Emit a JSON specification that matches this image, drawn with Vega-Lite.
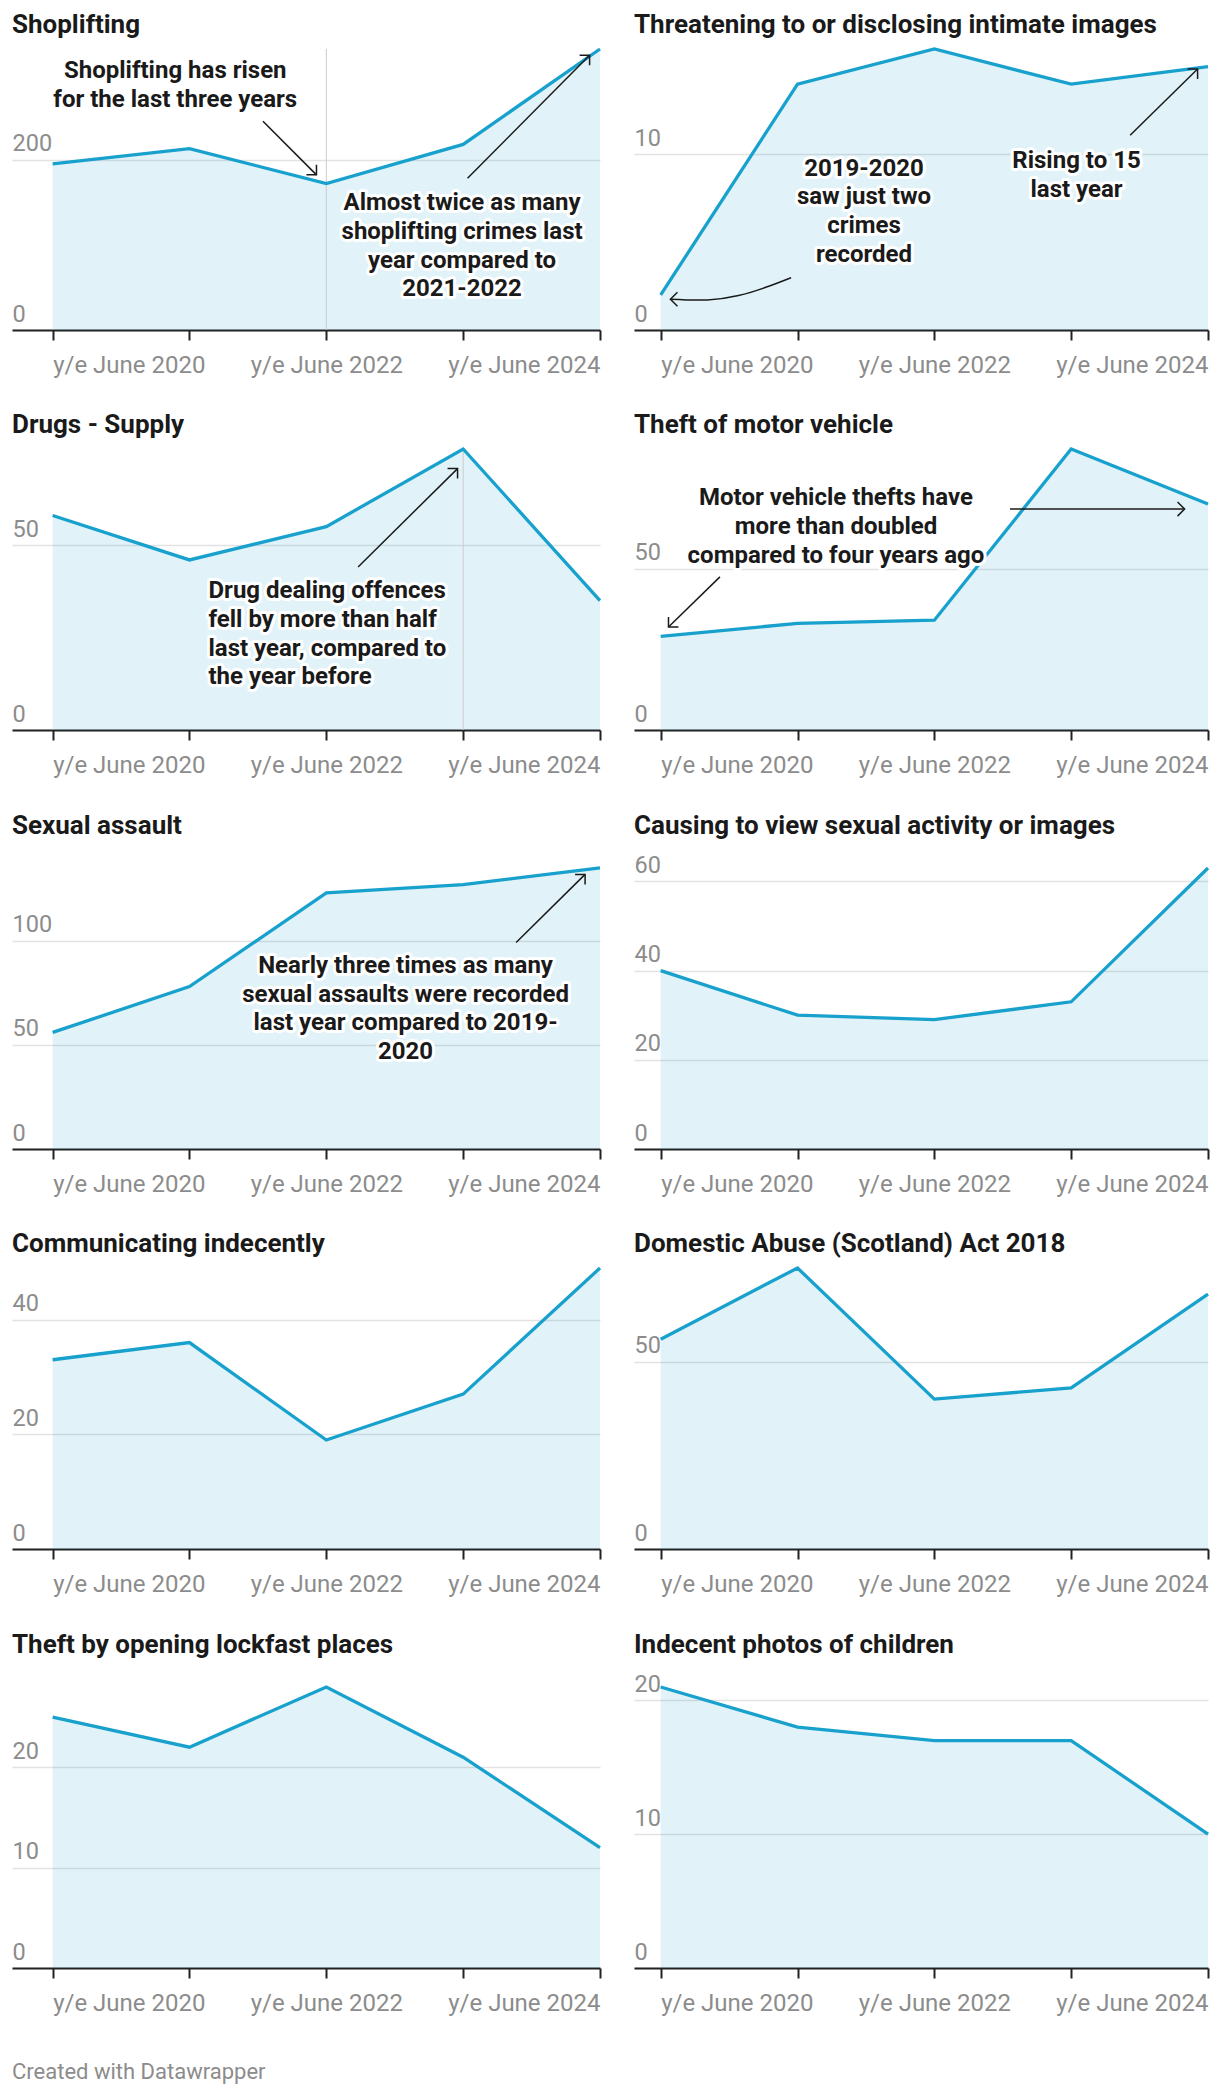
{
  "$schema": "https://vega.github.io/schema/vega-lite/v6.json",
  "background": "white",
  "padding": {"left": 12, "top": 12, "right": 12, "bottom": 8},
  "title": {"text": "Created with Datawrapper", "orient": "bottom", "anchor": "start", "frame": "bounds", "fontSize": 22, "fontWeight": "normal", "color": "#8c8c8c", "font": "Roboto", "offset": 64, "baseline": "alphabetic"},
  "datasets": {
    "series": [
      {"p":"shop","year":2020,"n":195},{"p":"shop","year":2021,"n":213},{"p":"shop","year":2022,"n":172},{"p":"shop","year":2023,"n":218},{"p":"shop","year":2024,"n":330},
      {"p":"threat","year":2020,"n":2},{"p":"threat","year":2021,"n":14},{"p":"threat","year":2022,"n":16},{"p":"threat","year":2023,"n":14},{"p":"threat","year":2024,"n":15},
      {"p":"drugs","year":2020,"n":58},{"p":"drugs","year":2021,"n":46},{"p":"drugs","year":2022,"n":55},{"p":"drugs","year":2023,"n":76},{"p":"drugs","year":2024,"n":35},
      {"p":"motor","year":2020,"n":29},{"p":"motor","year":2021,"n":33},{"p":"motor","year":2022,"n":34},{"p":"motor","year":2023,"n":87},{"p":"motor","year":2024,"n":70},
      {"p":"sexual","year":2020,"n":56},{"p":"sexual","year":2021,"n":78},{"p":"sexual","year":2022,"n":123},{"p":"sexual","year":2023,"n":127},{"p":"sexual","year":2024,"n":135},
      {"p":"causing","year":2020,"n":40},{"p":"causing","year":2021,"n":30},{"p":"causing","year":2022,"n":29},{"p":"causing","year":2023,"n":33},{"p":"causing","year":2024,"n":63},
      {"p":"comm","year":2020,"n":33},{"p":"comm","year":2021,"n":36},{"p":"comm","year":2022,"n":19},{"p":"comm","year":2023,"n":27},{"p":"comm","year":2024,"n":49},
      {"p":"domestic","year":2020,"n":56},{"p":"domestic","year":2021,"n":75},{"p":"domestic","year":2022,"n":40},{"p":"domestic","year":2023,"n":43},{"p":"domestic","year":2024,"n":68},
      {"p":"lockfast","year":2020,"n":25},{"p":"lockfast","year":2021,"n":22},{"p":"lockfast","year":2022,"n":28},{"p":"lockfast","year":2023,"n":21},{"p":"lockfast","year":2024,"n":12},
      {"p":"photos","year":2020,"n":21},{"p":"photos","year":2021,"n":18},{"p":"photos","year":2022,"n":17},{"p":"photos","year":2023,"n":17},{"p":"photos","year":2024,"n":10}
    ],
    "ranges": [
      {"p":"shop","x":2022,"y":0,"y2":330},
      {"p":"drugs","x":2023,"y":0,"y2":76}
    ],
    "arrows": [
      {"p":"shop","x":2021.537,"y":245.1,"x2":2021.928,"y2":182.2},
      {"p":"shop","x":2023.032,"y":178.1,"x2":2023.924,"y2":322.7},
      {"p":"threat","x":2023.431,"y":11.09,"x2":2023.924,"y2":14.86},
      {"p":"drugs","x":2022.232,"y":44.1,"x2":2022.959,"y2":70.7},
      {"p":"motor","x":2020.433,"y":47.4,"x2":2020.057,"y2":31.9},
      {"p":"motor","x":2022.553,"y":68.4,"x2":2023.829,"y2":68.4},
      {"p":"sexual","x":2023.387,"y":99.2,"x2":2023.891,"y2":131.9}
    ],
    "heads": [
      {"p":"shop","x":2021.928,"y":182.2,"dir":"se"},
      {"p":"shop","x":2023.924,"y":322.7,"dir":"ne"},
      {"p":"threat","x":2023.924,"y":14.86,"dir":"ne"},
      {"p":"threat","x":2020.071,"y":1.75,"dir":"w"},
      {"p":"drugs","x":2022.959,"y":70.7,"dir":"ne"},
      {"p":"motor","x":2020.057,"y":31.9,"dir":"sw"},
      {"p":"motor","x":2023.829,"y":68.4,"dir":"e"},
      {"p":"sexual","x":2023.891,"y":131.9,"dir":"ne"}
    ],
    "curves": [
      {"p":"threat","x":2020.071,"y":1.75},
      {"p":"threat","x":2020.341,"y":1.71},
      {"p":"threat","x":2020.569,"y":1.96},
      {"p":"threat","x":2020.768,"y":2.43},
      {"p":"threat","x":2020.953,"y":2.98}
    ],
    "notes": [
      {"p":"shop","x":2020.896,"y":295.9,"t":["Shoplifting has risen","for the last three years"]},
      {"p":"shop","x":2022.992,"y":140.5,"t":["Almost twice as many","shoplifting crimes last","year compared to","2021-2022"]},
      {"p":"threat","x":2021.486,"y":8.78,"t":["2019-2020","saw just two","crimes","recorded"]},
      {"p":"threat","x":2023.039,"y":9.23,"t":["Rising to 15","last year"]},
      {"p":"drugs","x":2021.139,"y":35.6,"t":["Drug dealing offences","fell by more than half","last year, compared to","the year before"]},
      {"p":"motor","x":2021.281,"y":69.6,"t":["Motor vehicle thefts have","more than doubled","compared to four years ago"]},
      {"p":"sexual","x":2022.579,"y":84.6,"t":["Nearly three times as many","sexual assaults were recorded","last year compared to 2019-","2020"]}
    ]
  },
  "columns": 2,
  "spacing": {"row": 119, "column": 34},
  "bounds": "flush",
  "align": "each",
  "concat": [
    {
      "width": 588, "height": 281, "title": "Shoplifting",
      "data": {"name": "series"}, "transform": [{"filter": "datum.p === 'shop'"}],
      "encoding": {
        "x": {"field": "year", "type": "quantitative", "scale": {"domain": [2019.703, 2024], "nice": false, "zero": false}, "axis": {"values": [2020,2021,2022,2023,2024], "labelExpr": "datum.value % 2 === 0 ? 'y/e June ' + datum.value : ''", "title": null}},
        "y": {"field": "n", "type": "quantitative", "scale": {"domain": [0, 330], "nice": false}, "axis": {"values": [0, 200], "title": null}}
      },
      "layer": [
        {"mark": {"type": "area", "color": "#18a1cd", "fillOpacity": 0.13}},
        {"data": {"name": "ranges"}, "transform": [{"filter": "datum.p === 'shop'"}], "mark": {"type": "rule", "stroke": "#cccccc", "strokeWidth": 1}, "encoding": {"x": {"field": "x", "type": "quantitative"}, "y": {"field": "y", "type": "quantitative"}, "y2": {"field": "y2"}}},
        {"mark": {"type": "line", "color": "#18a1cd", "strokeWidth": 3.3}},
        {"data": {"name": "arrows"}, "transform": [{"filter": "datum.p === 'shop'"}], "mark": {"type": "rule", "stroke": "#1a1a1a", "strokeWidth": 1.5}, "encoding": {"x": {"field": "x", "type": "quantitative"}, "y": {"field": "y", "type": "quantitative"}, "x2": {"field": "x2"}, "y2": {"field": "y2"}}},
        {"data": {"name": "heads"}, "transform": [{"filter": "datum.p === 'shop'"}], "mark": {"type": "point", "shape": "M-1,-1L0,0L-1,1", "filled": false, "stroke": "#1a1a1a", "strokeWidth": 1.5, "size": 200, "opacity": 1}, "encoding": {"x": {"field": "x", "type": "quantitative"}, "y": {"field": "y", "type": "quantitative"}, "angle": {"field": "dir", "type": "nominal", "scale": {"type": "ordinal", "domain": ["e","se","sw","w","ne"], "range": [0,45,135,180,315]}, "legend": null}}},
        {"data": {"name": "notes"}, "transform": [{"filter": "datum.p === 'shop'"}], "mark": {"type": "text", "font": "Roboto", "fontSize": 24, "fontWeight": "bold", "align": "center", "baseline": "alphabetic", "lineHeight": 28.7, "fill": "white", "stroke": "white", "strokeWidth": 6, "strokeJoin": "round"}, "encoding": {"x": {"field": "x", "type": "quantitative"}, "y": {"field": "y", "type": "quantitative"}, "text": {"field": "t", "type": "nominal"}}},
        {"data": {"name": "notes"}, "transform": [{"filter": "datum.p === 'shop'"}], "mark": {"type": "text", "font": "Roboto", "fontSize": 24, "fontWeight": "bold", "align": "center", "baseline": "alphabetic", "lineHeight": 28.7, "fill": "#1a1a1a"}, "encoding": {"x": {"field": "x", "type": "quantitative"}, "y": {"field": "y", "type": "quantitative"}, "text": {"field": "t", "type": "nominal"}}}
      ]
    },
    {
      "width": 574, "height": 281, "title": "Threatening to or disclosing intimate images",
      "data": {"name": "series"}, "transform": [{"filter": "datum.p === 'threat'"}],
      "encoding": {
        "x": {"field": "year", "type": "quantitative", "scale": {"domain": [2019.805, 2024], "nice": false, "zero": false}, "axis": {"values": [2020,2021,2022,2023,2024], "labelExpr": "datum.value % 2 === 0 ? 'y/e June ' + datum.value : ''", "title": null}},
        "y": {"field": "n", "type": "quantitative", "scale": {"domain": [0, 16], "nice": false}, "axis": {"values": [0, 10], "title": null}}
      },
      "layer": [
        {"mark": {"type": "area", "color": "#18a1cd", "fillOpacity": 0.13}},
        {"mark": {"type": "line", "color": "#18a1cd", "strokeWidth": 3.3}},
        {"data": {"name": "arrows"}, "transform": [{"filter": "datum.p === 'threat'"}], "mark": {"type": "rule", "stroke": "#1a1a1a", "strokeWidth": 1.5}, "encoding": {"x": {"field": "x", "type": "quantitative"}, "y": {"field": "y", "type": "quantitative"}, "x2": {"field": "x2"}, "y2": {"field": "y2"}}},
        {"data": {"name": "curves"}, "transform": [{"filter": "datum.p === 'threat'"}], "mark": {"type": "line", "stroke": "#1a1a1a", "strokeWidth": 1.5, "interpolate": "natural"}, "encoding": {"x": {"field": "x", "type": "quantitative"}, "y": {"field": "y", "type": "quantitative"}}},
        {"data": {"name": "heads"}, "transform": [{"filter": "datum.p === 'threat'"}], "mark": {"type": "point", "shape": "M-1,-1L0,0L-1,1", "filled": false, "stroke": "#1a1a1a", "strokeWidth": 1.5, "size": 200, "opacity": 1}, "encoding": {"x": {"field": "x", "type": "quantitative"}, "y": {"field": "y", "type": "quantitative"}, "angle": {"field": "dir", "type": "nominal", "scale": {"type": "ordinal", "domain": ["e","se","sw","w","ne"], "range": [0,45,135,180,315]}, "legend": null}}},
        {"data": {"name": "notes"}, "transform": [{"filter": "datum.p === 'threat'"}], "mark": {"type": "text", "font": "Roboto", "fontSize": 24, "fontWeight": "bold", "align": "center", "baseline": "alphabetic", "lineHeight": 28.7, "fill": "white", "stroke": "white", "strokeWidth": 6, "strokeJoin": "round"}, "encoding": {"x": {"field": "x", "type": "quantitative"}, "y": {"field": "y", "type": "quantitative"}, "text": {"field": "t", "type": "nominal"}}},
        {"data": {"name": "notes"}, "transform": [{"filter": "datum.p === 'threat'"}], "mark": {"type": "text", "font": "Roboto", "fontSize": 24, "fontWeight": "bold", "align": "center", "baseline": "alphabetic", "lineHeight": 28.7, "fill": "#1a1a1a"}, "encoding": {"x": {"field": "x", "type": "quantitative"}, "y": {"field": "y", "type": "quantitative"}, "text": {"field": "t", "type": "nominal"}}}
      ]
    },
    {
      "width": 588, "height": 281, "title": "Drugs - Supply",
      "data": {"name": "series"}, "transform": [{"filter": "datum.p === 'drugs'"}],
      "encoding": {
        "x": {"field": "year", "type": "quantitative", "scale": {"domain": [2019.703, 2024], "nice": false, "zero": false}, "axis": {"values": [2020,2021,2022,2023,2024], "labelExpr": "datum.value % 2 === 0 ? 'y/e June ' + datum.value : ''", "title": null}},
        "y": {"field": "n", "type": "quantitative", "scale": {"domain": [0, 76], "nice": false}, "axis": {"values": [0, 50], "title": null}}
      },
      "layer": [
        {"mark": {"type": "area", "color": "#18a1cd", "fillOpacity": 0.13}},
        {"data": {"name": "ranges"}, "transform": [{"filter": "datum.p === 'drugs'"}], "mark": {"type": "rule", "stroke": "#cccccc", "strokeWidth": 1}, "encoding": {"x": {"field": "x", "type": "quantitative"}, "y": {"field": "y", "type": "quantitative"}, "y2": {"field": "y2"}}},
        {"mark": {"type": "line", "color": "#18a1cd", "strokeWidth": 3.3}},
        {"data": {"name": "arrows"}, "transform": [{"filter": "datum.p === 'drugs'"}], "mark": {"type": "rule", "stroke": "#1a1a1a", "strokeWidth": 1.5}, "encoding": {"x": {"field": "x", "type": "quantitative"}, "y": {"field": "y", "type": "quantitative"}, "x2": {"field": "x2"}, "y2": {"field": "y2"}}},
        {"data": {"name": "heads"}, "transform": [{"filter": "datum.p === 'drugs'"}], "mark": {"type": "point", "shape": "M-1,-1L0,0L-1,1", "filled": false, "stroke": "#1a1a1a", "strokeWidth": 1.5, "size": 200, "opacity": 1}, "encoding": {"x": {"field": "x", "type": "quantitative"}, "y": {"field": "y", "type": "quantitative"}, "angle": {"field": "dir", "type": "nominal", "scale": {"type": "ordinal", "domain": ["e","se","sw","w","ne"], "range": [0,45,135,180,315]}, "legend": null}}},
        {"data": {"name": "notes"}, "transform": [{"filter": "datum.p === 'drugs'"}], "mark": {"type": "text", "font": "Roboto", "fontSize": 24, "fontWeight": "bold", "align": "left", "baseline": "alphabetic", "lineHeight": 28.7, "fill": "white", "stroke": "white", "strokeWidth": 6, "strokeJoin": "round"}, "encoding": {"x": {"field": "x", "type": "quantitative"}, "y": {"field": "y", "type": "quantitative"}, "text": {"field": "t", "type": "nominal"}}},
        {"data": {"name": "notes"}, "transform": [{"filter": "datum.p === 'drugs'"}], "mark": {"type": "text", "font": "Roboto", "fontSize": 24, "fontWeight": "bold", "align": "left", "baseline": "alphabetic", "lineHeight": 28.7, "fill": "#1a1a1a"}, "encoding": {"x": {"field": "x", "type": "quantitative"}, "y": {"field": "y", "type": "quantitative"}, "text": {"field": "t", "type": "nominal"}}}
      ]
    },
    {
      "width": 574, "height": 281, "title": "Theft of motor vehicle",
      "data": {"name": "series"}, "transform": [{"filter": "datum.p === 'motor'"}],
      "encoding": {
        "x": {"field": "year", "type": "quantitative", "scale": {"domain": [2019.805, 2024], "nice": false, "zero": false}, "axis": {"values": [2020,2021,2022,2023,2024], "labelExpr": "datum.value % 2 === 0 ? 'y/e June ' + datum.value : ''", "title": null}},
        "y": {"field": "n", "type": "quantitative", "scale": {"domain": [0, 87], "nice": false}, "axis": {"values": [0, 50], "title": null}}
      },
      "layer": [
        {"mark": {"type": "area", "color": "#18a1cd", "fillOpacity": 0.13}},
        {"mark": {"type": "line", "color": "#18a1cd", "strokeWidth": 3.3}},
        {"data": {"name": "arrows"}, "transform": [{"filter": "datum.p === 'motor'"}], "mark": {"type": "rule", "stroke": "#1a1a1a", "strokeWidth": 1.5}, "encoding": {"x": {"field": "x", "type": "quantitative"}, "y": {"field": "y", "type": "quantitative"}, "x2": {"field": "x2"}, "y2": {"field": "y2"}}},
        {"data": {"name": "heads"}, "transform": [{"filter": "datum.p === 'motor'"}], "mark": {"type": "point", "shape": "M-1,-1L0,0L-1,1", "filled": false, "stroke": "#1a1a1a", "strokeWidth": 1.5, "size": 200, "opacity": 1}, "encoding": {"x": {"field": "x", "type": "quantitative"}, "y": {"field": "y", "type": "quantitative"}, "angle": {"field": "dir", "type": "nominal", "scale": {"type": "ordinal", "domain": ["e","se","sw","w","ne"], "range": [0,45,135,180,315]}, "legend": null}}},
        {"data": {"name": "notes"}, "transform": [{"filter": "datum.p === 'motor'"}], "mark": {"type": "text", "font": "Roboto", "fontSize": 24, "fontWeight": "bold", "align": "center", "baseline": "alphabetic", "lineHeight": 28.7, "fill": "white", "stroke": "white", "strokeWidth": 6, "strokeJoin": "round"}, "encoding": {"x": {"field": "x", "type": "quantitative"}, "y": {"field": "y", "type": "quantitative"}, "text": {"field": "t", "type": "nominal"}}},
        {"data": {"name": "notes"}, "transform": [{"filter": "datum.p === 'motor'"}], "mark": {"type": "text", "font": "Roboto", "fontSize": 24, "fontWeight": "bold", "align": "center", "baseline": "alphabetic", "lineHeight": 28.7, "fill": "#1a1a1a"}, "encoding": {"x": {"field": "x", "type": "quantitative"}, "y": {"field": "y", "type": "quantitative"}, "text": {"field": "t", "type": "nominal"}}}
      ]
    },
    {
      "width": 588, "height": 300, "title": {"text": "Sexual assault", "offset": 10},
      "data": {"name": "series"}, "transform": [{"filter": "datum.p === 'sexual'"}],
      "encoding": {
        "x": {"field": "year", "type": "quantitative", "scale": {"domain": [2019.703, 2024], "nice": false, "zero": false}, "axis": {"values": [2020,2021,2022,2023,2024], "labelExpr": "datum.value % 2 === 0 ? 'y/e June ' + datum.value : ''", "title": null}},
        "y": {"field": "n", "type": "quantitative", "scale": {"domain": [0, 144.1], "nice": false}, "axis": {"values": [0, 50, 100], "title": null}}
      },
      "layer": [
        {"mark": {"type": "area", "color": "#18a1cd", "fillOpacity": 0.13}},
        {"mark": {"type": "line", "color": "#18a1cd", "strokeWidth": 3.3}},
        {"data": {"name": "arrows"}, "transform": [{"filter": "datum.p === 'sexual'"}], "mark": {"type": "rule", "stroke": "#1a1a1a", "strokeWidth": 1.5}, "encoding": {"x": {"field": "x", "type": "quantitative"}, "y": {"field": "y", "type": "quantitative"}, "x2": {"field": "x2"}, "y2": {"field": "y2"}}},
        {"data": {"name": "heads"}, "transform": [{"filter": "datum.p === 'sexual'"}], "mark": {"type": "point", "shape": "M-1,-1L0,0L-1,1", "filled": false, "stroke": "#1a1a1a", "strokeWidth": 1.5, "size": 200, "opacity": 1}, "encoding": {"x": {"field": "x", "type": "quantitative"}, "y": {"field": "y", "type": "quantitative"}, "angle": {"field": "dir", "type": "nominal", "scale": {"type": "ordinal", "domain": ["e","se","sw","w","ne"], "range": [0,45,135,180,315]}, "legend": null}}},
        {"data": {"name": "notes"}, "transform": [{"filter": "datum.p === 'sexual'"}], "mark": {"type": "text", "font": "Roboto", "fontSize": 24, "fontWeight": "bold", "align": "center", "baseline": "alphabetic", "lineHeight": 28.7, "fill": "white", "stroke": "white", "strokeWidth": 6, "strokeJoin": "round"}, "encoding": {"x": {"field": "x", "type": "quantitative"}, "y": {"field": "y", "type": "quantitative"}, "text": {"field": "t", "type": "nominal"}}},
        {"data": {"name": "notes"}, "transform": [{"filter": "datum.p === 'sexual'"}], "mark": {"type": "text", "font": "Roboto", "fontSize": 24, "fontWeight": "bold", "align": "center", "baseline": "alphabetic", "lineHeight": 28.7, "fill": "#1a1a1a"}, "encoding": {"x": {"field": "x", "type": "quantitative"}, "y": {"field": "y", "type": "quantitative"}, "text": {"field": "t", "type": "nominal"}}}
      ]
    },
    {
      "width": 574, "height": 300, "title": {"text": "Causing to view sexual activity or images", "offset": 10},
      "data": {"name": "series"}, "transform": [{"filter": "datum.p === 'causing'"}],
      "encoding": {
        "x": {"field": "year", "type": "quantitative", "scale": {"domain": [2019.805, 2024], "nice": false, "zero": false}, "axis": {"values": [2020,2021,2022,2023,2024], "labelExpr": "datum.value % 2 === 0 ? 'y/e June ' + datum.value : ''", "title": null}},
        "y": {"field": "n", "type": "quantitative", "scale": {"domain": [0, 67.26], "nice": false}, "axis": {"values": [0, 20, 40, 60], "title": null}}
      },
      "layer": [
        {"mark": {"type": "area", "color": "#18a1cd", "fillOpacity": 0.13}},
        {"mark": {"type": "line", "color": "#18a1cd", "strokeWidth": 3.3}}
      ]
    },
    {
      "width": 588, "height": 281, "title": "Communicating indecently",
      "data": {"name": "series"}, "transform": [{"filter": "datum.p === 'comm'"}],
      "encoding": {
        "x": {"field": "year", "type": "quantitative", "scale": {"domain": [2019.703, 2024], "nice": false, "zero": false}, "axis": {"values": [2020,2021,2022,2023,2024], "labelExpr": "datum.value % 2 === 0 ? 'y/e June ' + datum.value : ''", "title": null}},
        "y": {"field": "n", "type": "quantitative", "scale": {"domain": [0, 49], "nice": false}, "axis": {"values": [0, 20, 40], "title": null}}
      },
      "layer": [
        {"mark": {"type": "area", "color": "#18a1cd", "fillOpacity": 0.13}},
        {"mark": {"type": "line", "color": "#18a1cd", "strokeWidth": 3.3}}
      ]
    },
    {
      "width": 574, "height": 281, "title": "Domestic Abuse (Scotland) Act 2018",
      "data": {"name": "series"}, "transform": [{"filter": "datum.p === 'domestic'"}],
      "encoding": {
        "x": {"field": "year", "type": "quantitative", "scale": {"domain": [2019.805, 2024], "nice": false, "zero": false}, "axis": {"values": [2020,2021,2022,2023,2024], "labelExpr": "datum.value % 2 === 0 ? 'y/e June ' + datum.value : ''", "title": null}},
        "y": {"field": "n", "type": "quantitative", "scale": {"domain": [0, 75], "nice": false}, "axis": {"values": [0, 50], "title": null}}
      },
      "layer": [
        {"mark": {"type": "area", "color": "#18a1cd", "fillOpacity": 0.13}},
        {"mark": {"type": "line", "color": "#18a1cd", "strokeWidth": 3.3}}
      ]
    },
    {
      "width": 588, "height": 300, "title": {"text": "Theft by opening lockfast places", "offset": 10},
      "data": {"name": "series"}, "transform": [{"filter": "datum.p === 'lockfast'"}],
      "encoding": {
        "x": {"field": "year", "type": "quantitative", "scale": {"domain": [2019.703, 2024], "nice": false, "zero": false}, "axis": {"values": [2020,2021,2022,2023,2024], "labelExpr": "datum.value % 2 === 0 ? 'y/e June ' + datum.value : ''", "title": null}},
        "y": {"field": "n", "type": "quantitative", "scale": {"domain": [0, 29.89], "nice": false}, "axis": {"values": [0, 10, 20], "title": null}}
      },
      "layer": [
        {"mark": {"type": "area", "color": "#18a1cd", "fillOpacity": 0.13}},
        {"mark": {"type": "line", "color": "#18a1cd", "strokeWidth": 3.3}}
      ]
    },
    {
      "width": 574, "height": 300, "title": {"text": "Indecent photos of children", "offset": 10},
      "data": {"name": "series"}, "transform": [{"filter": "datum.p === 'photos'"}],
      "encoding": {
        "x": {"field": "year", "type": "quantitative", "scale": {"domain": [2019.805, 2024], "nice": false, "zero": false}, "axis": {"values": [2020,2021,2022,2023,2024], "labelExpr": "datum.value % 2 === 0 ? 'y/e June ' + datum.value : ''", "title": null}},
        "y": {"field": "n", "type": "quantitative", "scale": {"domain": [0, 22.42], "nice": false}, "axis": {"values": [0, 10, 20], "title": null}}
      },
      "layer": [
        {"mark": {"type": "area", "color": "#18a1cd", "fillOpacity": 0.13}},
        {"mark": {"type": "line", "color": "#18a1cd", "strokeWidth": 3.3}}
      ]
    }
  ],
  "config": {
    "view": {"stroke": null},
    "font": "Roboto",
    "title": {"font": "Roboto", "fontSize": 26, "fontWeight": "bold", "color": "#1a1a1a", "anchor": "start", "frame": "group", "baseline": "alphabetic", "offset": 4},
    "axisX": {"domainColor": "#222222", "domainWidth": 2, "tickColor": "#222222", "tickWidth": 2, "tickSize": 10, "labelColor": "#8c8c8c", "labelFontSize": 24, "labelFont": "Roboto", "labelPadding": 13, "grid": false, "labelOverlap": false, "labelFlush": 45, "zindex": 1},
    "axisY": {"domain": false, "ticks": false, "tickSize": 0, "grid": true, "gridColor": "#e2e2e2", "gridWidth": 1.5, "labelAlign": "left", "labelBaseline": "alphabetic", "labelOffset": -9, "labelPadding": 0, "labelColor": "#8c8c8c", "labelFontSize": 23.5, "labelFont": "Roboto", "labelFlush": false, "labelOverlap": false, "zindex": 0}
  }
}
